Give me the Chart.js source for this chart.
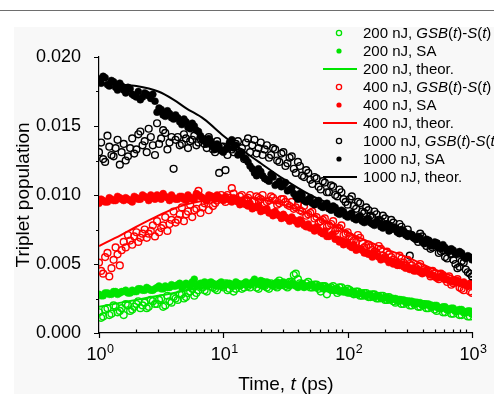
<!DOCTYPE html>
<html>
<head>
<meta charset="utf-8">
<script src="https://cdn.jsdelivr.net/npm/chart.js@4.4.1/dist/chart.umd.min.js"></script>
<style>
html, body { margin: 0; padding: 0; background: #fff; }
</style>
</head>
<body>
<canvas id="chartTriplet" width="494" height="394"></canvas>
<script>
// measurement times (ps), two interleaved grids
const times = [1, 1.08, 1.17, 1.26, 1.36, 1.47, 1.58, 1.71, 1.85, 2.0, 2.15, 2.33, 2.51, 2.71, 2.93, 3.16, 3.41, 3.69, 3.98, 4.3,
    4.64, 5.01, 5.41, 5.84, 6.31, 6.81, 7.36, 7.94, 8.58, 9.26, 10, 10.8, 11.7, 12.6, 13.6, 14.7, 15.8, 17.1, 18.5, 20,
    21.5, 23.3, 25.1, 27.1, 29.3, 31.6, 34.1, 36.9, 39.8, 43, 46.4, 50.1, 54.1, 58.4, 63.1, 68.1, 73.6, 79.4, 85.8, 92.6,
    100, 108, 117, 126, 136, 147, 158, 171, 185, 200, 215, 233, 251, 271, 293, 316, 341, 369, 398, 430,
    464, 501, 541, 584, 631, 681, 736, 794, 858, 926, 1000];
const times2 = [1.04, 1.12, 1.21, 1.31, 1.41, 1.52, 1.64, 1.78, 1.92, 2.07, 2.24, 2.42, 2.61, 2.82, 3.04, 3.28, 3.55, 3.83, 4.13, 4.46,
    4.82, 5.2, 5.62, 6.07, 6.55, 7.07, 7.64, 8.25, 8.91, 9.62, 10.4, 11.2, 12.1, 13.1, 14.1, 15.2, 16.4, 17.8, 19.2, 20.7,
    22.4, 24.2, 26.1, 28.2, 30.4, 32.8, 35.5, 38.3, 41.3, 44.6, 48.2, 52, 56.2, 60.7, 65.5, 70.7, 76.4, 82.5, 89.1, 96.2,
    104, 112, 121, 131, 141, 152, 164, 178, 192, 207, 224, 242, 261, 282, 304, 328, 355, 383, 413, 446,
    482, 520, 562, 607, 655, 707, 764, 825, 891, 962];

const gsb200 = [0.0015, 0.0012, 0.0018, 0.0014, 0.0019, 0.0016, 0.0013, 0.0020, 0.0017, 0.0021, 0.0018,
    0.0022, 0.0019, 0.0023, 0.0021, 0.0025, 0.0020, 0.0023, 0.0026,
    0.0024, 0.0028, 0.0026, 0.0030, 0.0027, 0.0031, 0.0033, 0.0030, 0.0034, 0.0032, 0.0035, 0.0033,
    0.0031, 0.0034, 0.0032, 0.0035, 0.0033, 0.0034, 0.0036, 0.0033, 0.0035, 0.0034,
    0.0032, 0.0035, 0.0033, 0.0036, 0.0034, 0.0037, 0.0042, 0.0039, 0.0035, 0.0036, 0.0033,
    0.0035, 0.0032, 0.0034, 0.0028, 0.0033, 0.0031, 0.0033, 0.0030, 0.0032, 0.0029,
    0.0030, 0.0027, 0.0029, 0.0026, 0.0028, 0.0025, 0.0027, 0.0024, 0.0026, 0.0023,
    0.0024, 0.0021, 0.0023, 0.0020, 0.0022, 0.0019, 0.0021, 0.0018, 0.0020, 0.0017,
    0.0018, 0.0015, 0.0017, 0.0014, 0.0016, 0.0013, 0.0015, 0.0012, 0.0014];
const gsb200b = [0.0011, 0.0017, 0.0013, 0.0020, 0.0015, 0.0018, 0.0021, 0.0016, 0.0019, 0.0023, 0.0020,
    0.0018, 0.0024, 0.0021, 0.0024, 0.0019, 0.0027, 0.0022, 0.0025,
    0.0028, 0.0025, 0.0029, 0.0032, 0.0029, 0.0034, 0.0031, 0.0036, 0.0033, 0.0031, 0.0034,
    0.0036, 0.0032, 0.0030, 0.0035, 0.0032, 0.0036, 0.0033, 0.0035, 0.0032, 0.0037,
    0.0033, 0.0036, 0.0034, 0.0038, 0.0035, 0.0033, 0.0037, 0.0043, 0.0036, 0.0034,
    0.0037, 0.0033, 0.0035, 0.0030, 0.0034, 0.0032, 0.0034, 0.0029, 0.0033, 0.0030,
    0.0031, 0.0028, 0.0030, 0.0027, 0.0029, 0.0026, 0.0028, 0.0025, 0.0027, 0.0024,
    0.0025, 0.0022, 0.0024, 0.0021, 0.0023, 0.0020, 0.0022, 0.0019, 0.0021, 0.0018,
    0.0019, 0.0016, 0.0018, 0.0015, 0.0017, 0.0014, 0.0016, 0.0013, 0.0015, 0.0012];
const sa200 = [0.0028, 0.0027, 0.0029, 0.0028, 0.0030, 0.0029, 0.0030, 0.0029, 0.0031, 0.0030, 0.0032,
    0.0031, 0.0032, 0.0031, 0.0033, 0.0032, 0.0034, 0.0033, 0.0034,
    0.0035, 0.0033, 0.0036, 0.0034, 0.0039, 0.0035, 0.0036, 0.0034, 0.0037, 0.0035, 0.0036, 0.0034,
    0.0036, 0.0035, 0.0037, 0.0034, 0.0036, 0.0035, 0.0037, 0.0036, 0.0038, 0.0035,
    0.0036, 0.0034, 0.0037, 0.0035, 0.0036, 0.0034, 0.0035, 0.0033, 0.0036, 0.0034, 0.0035,
    0.0033, 0.0034, 0.0032, 0.0033, 0.0031, 0.0032, 0.0030, 0.0031, 0.0029, 0.0030,
    0.0028, 0.0029, 0.0027, 0.0028, 0.0026, 0.0027, 0.0025, 0.0026, 0.0024, 0.0025,
    0.0023, 0.0024, 0.0022, 0.0023, 0.0021, 0.0022, 0.0020, 0.0021, 0.0019, 0.0020,
    0.0018, 0.0019, 0.0017, 0.0018, 0.0016, 0.0017, 0.0015, 0.0016, 0.0014];
const sa200b = [0.0027, 0.0029, 0.0028, 0.0030, 0.0028, 0.0030, 0.0031, 0.0029, 0.0030, 0.0032, 0.0031,
    0.0033, 0.0031, 0.0032, 0.0034, 0.0032, 0.0033, 0.0035, 0.0034,
    0.0036, 0.0034, 0.0035, 0.0037, 0.0034, 0.0036, 0.0037, 0.0035, 0.0036, 0.0034, 0.0037,
    0.0035, 0.0036, 0.0034, 0.0036, 0.0035, 0.0037, 0.0035, 0.0039, 0.0036, 0.0034,
    0.0037, 0.0035, 0.0036, 0.0034, 0.0037, 0.0035, 0.0036, 0.0034, 0.0035, 0.0033,
    0.0034, 0.0035, 0.0033, 0.0034, 0.0032, 0.0033, 0.0031, 0.0032, 0.0030, 0.0031,
    0.0029, 0.0030, 0.0028, 0.0029, 0.0027, 0.0028, 0.0026, 0.0027, 0.0025, 0.0026,
    0.0024, 0.0025, 0.0023, 0.0024, 0.0022, 0.0023, 0.0021, 0.0022, 0.0020, 0.0021,
    0.0019, 0.0020, 0.0018, 0.0019, 0.0017, 0.0018, 0.0016, 0.0017, 0.0015, 0.0016];
const gsb400 = [0.0051, 0.0043, 0.0058, 0.0047, 0.0062, 0.0049, 0.0066, 0.0071, 0.0064, 0.0073, 0.0069,
    0.0075, 0.0072, 0.0078, 0.0081, 0.0076, 0.0084, 0.0079, 0.0088,
    0.0082, 0.0091, 0.0086, 0.0093, 0.0089, 0.0103, 0.0091, 0.0096, 0.0099, 0.0094, 0.0098, 0.0097,
    0.0100, 0.0105, 0.0097, 0.0099, 0.0096, 0.0098, 0.0095, 0.0099, 0.0097, 0.0094,
    0.0096, 0.0098, 0.0093, 0.0097, 0.0095, 0.0092, 0.0090, 0.0093, 0.0088, 0.0085, 0.0087,
    0.0083, 0.0080, 0.0082, 0.0077, 0.0079, 0.0074, 0.0076, 0.0071, 0.0073, 0.0068,
    0.0066, 0.0069, 0.0062, 0.0064, 0.0060, 0.0058, 0.0061, 0.0055, 0.0057, 0.0053,
    0.0051, 0.0054, 0.0049, 0.0050, 0.0046, 0.0048, 0.0044, 0.0045, 0.0041, 0.0043,
    0.0039, 0.0042, 0.0037, 0.0035, 0.0038, 0.0033, 0.0031, 0.0034, 0.0029];
const gsb400b = [0.0045, 0.0055, 0.0041, 0.0053, 0.0057, 0.0060, 0.0062, 0.0067, 0.0070, 0.0066, 0.0072,
    0.0069, 0.0074, 0.0070, 0.0073, 0.0078, 0.0074, 0.0082, 0.0080,
    0.0086, 0.0081, 0.0088, 0.0084, 0.0090, 0.0087, 0.0094, 0.0089, 0.0092, 0.0096, 0.0100,
    0.0095, 0.0098, 0.0101, 0.0096, 0.0100, 0.0097, 0.0100, 0.0096, 0.0098, 0.0100,
    0.0095, 0.0099, 0.0096, 0.0094, 0.0097, 0.0093, 0.0095, 0.0091, 0.0089, 0.0092,
    0.0086, 0.0088, 0.0084, 0.0081, 0.0083, 0.0078, 0.0081, 0.0076, 0.0078, 0.0072,
    0.0070, 0.0067, 0.0071, 0.0065, 0.0063, 0.0062, 0.0059, 0.0063, 0.0056, 0.0059,
    0.0055, 0.0052, 0.0056, 0.0051, 0.0053, 0.0049, 0.0047, 0.0050, 0.0046, 0.0044,
    0.0045, 0.0040, 0.0043, 0.0039, 0.0041, 0.0036, 0.0039, 0.0032, 0.0035, 0.0030];
const sa400 = [0.0094, 0.0096, 0.0095, 0.0097, 0.0096, 0.0098, 0.0096, 0.0097, 0.0095, 0.0098, 0.0097,
    0.0099, 0.0096, 0.0098, 0.0100, 0.0097, 0.0099, 0.0096, 0.0098,
    0.0097, 0.0099, 0.0096, 0.0098, 0.0097, 0.0100, 0.0098, 0.0096, 0.0099, 0.0097, 0.0098, 0.0096,
    0.0097, 0.0095, 0.0096, 0.0093, 0.0094, 0.0092, 0.0090, 0.0091, 0.0088, 0.0089,
    0.0087, 0.0085, 0.0086, 0.0083, 0.0084, 0.0081, 0.0082, 0.0079, 0.0080, 0.0077, 0.0076,
    0.0074, 0.0075, 0.0072, 0.0070, 0.0071, 0.0068, 0.0066, 0.0064, 0.0065, 0.0062,
    0.0060, 0.0061, 0.0058, 0.0057, 0.0055, 0.0056, 0.0053, 0.0054, 0.0051, 0.0050,
    0.0049, 0.0050, 0.0047, 0.0046, 0.0045, 0.0046, 0.0043, 0.0044, 0.0042, 0.0041,
    0.0040, 0.0041, 0.0039, 0.0038, 0.0037, 0.0036, 0.0037, 0.0035, 0.0034];
const sa400b = [0.0097, 0.0095, 0.0098, 0.0096, 0.0099, 0.0097, 0.0098, 0.0096, 0.0099, 0.0097, 0.0100,
    0.0098, 0.0100, 0.0097, 0.0099, 0.0101, 0.0098, 0.0100, 0.0097,
    0.0099, 0.0097, 0.0100, 0.0098, 0.0101, 0.0099, 0.0097, 0.0100, 0.0098, 0.0100, 0.0097,
    0.0099, 0.0097, 0.0098, 0.0095, 0.0096, 0.0093, 0.0094, 0.0091, 0.0092, 0.0089,
    0.0090, 0.0087, 0.0088, 0.0085, 0.0086, 0.0083, 0.0084, 0.0081, 0.0082, 0.0078,
    0.0079, 0.0076, 0.0077, 0.0073, 0.0074, 0.0070, 0.0072, 0.0068, 0.0067, 0.0066,
    0.0063, 0.0064, 0.0061, 0.0060, 0.0058, 0.0057, 0.0058, 0.0055, 0.0054, 0.0053,
    0.0052, 0.0051, 0.0049, 0.0048, 0.0048, 0.0047, 0.0045, 0.0044, 0.0045, 0.0043,
    0.0042, 0.0040, 0.0041, 0.0039, 0.0038, 0.0037, 0.0038, 0.0036, 0.0035, 0.0036];
const gsb1000 = [0.0131, 0.0126, 0.0143, 0.0129, 0.0134, 0.0122, 0.0137, 0.0128, 0.0141, 0.0133, 0.0146,
    0.0139, 0.0148, 0.0136, 0.0152, 0.0141, 0.0145, 0.0138, 0.0119,
    0.0142, 0.0137, 0.0141, 0.0139, 0.0143, 0.0138, 0.0140, 0.0134, 0.0137, 0.0131, 0.0116, 0.0135,
    0.0129, 0.0133, 0.0137, 0.0131, 0.0126, 0.0141, 0.0136, 0.0130, 0.0138, 0.0133,
    0.0127, 0.0134, 0.0125, 0.0130, 0.0121, 0.0127, 0.0119, 0.0124, 0.0114, 0.0118, 0.0111,
    0.0113, 0.0106, 0.0110, 0.0102, 0.0107, 0.0100, 0.0104, 0.0097, 0.0093, 0.0099,
    0.0090, 0.0094, 0.0087, 0.0089, 0.0084, 0.0086, 0.0081, 0.0083, 0.0078, 0.0080,
    0.0074, 0.0077, 0.0072, 0.0056, 0.0069, 0.0066, 0.0070, 0.0063, 0.0061, 0.0064,
    0.0058, 0.0060, 0.0054, 0.0057, 0.0050, 0.0048, 0.0051, 0.0044, 0.0041];
const gsb1000b = [0.0138, 0.0124, 0.0135, 0.0128, 0.0140, 0.0131, 0.0125, 0.0134, 0.0130, 0.0144, 0.0136,
    0.0131, 0.0142, 0.0129, 0.0137, 0.0147, 0.0133, 0.0142, 0.0140,
    0.0136, 0.0144, 0.0134, 0.0140, 0.0136, 0.0141, 0.0137, 0.0142, 0.0133, 0.0139, 0.0135,
    0.0118, 0.0136, 0.0131, 0.0139, 0.0134, 0.0138, 0.0131, 0.0140, 0.0134, 0.0129,
    0.0136, 0.0129, 0.0133, 0.0124, 0.0131, 0.0123, 0.0128, 0.0116, 0.0121, 0.0113,
    0.0116, 0.0108, 0.0112, 0.0104, 0.0109, 0.0102, 0.0106, 0.0099, 0.0102, 0.0095,
    0.0097, 0.0092, 0.0095, 0.0088, 0.0091, 0.0085, 0.0088, 0.0082, 0.0085, 0.0079,
    0.0082, 0.0076, 0.0079, 0.0073, 0.0075, 0.0071, 0.0068, 0.0072, 0.0065, 0.0067,
    0.0062, 0.0065, 0.0059, 0.0055, 0.0060, 0.0053, 0.0047, 0.0052, 0.0046, 0.0043];
const sa1000 = [0.0184, 0.0186, 0.0180, 0.0183, 0.0178, 0.0181, 0.0176, 0.0178, 0.0173, 0.0171, 0.0169,
    0.0174, 0.0172, 0.0173, 0.0160, 0.0162, 0.0157, 0.0159, 0.0155,
    0.0156, 0.0151, 0.0153, 0.0148, 0.0150, 0.0146, 0.0141, 0.0137, 0.0139, 0.0133, 0.0135, 0.0131,
    0.0134, 0.0140, 0.0136, 0.0130, 0.0127, 0.0124, 0.0119, 0.0114, 0.0117, 0.0112,
    0.0110, 0.0113, 0.0108, 0.0106, 0.0109, 0.0104, 0.0101, 0.0097, 0.0100, 0.0095, 0.0098,
    0.0093, 0.0096, 0.0091, 0.0094, 0.0089, 0.0091, 0.0086, 0.0088, 0.0084, 0.0087,
    0.0082, 0.0085, 0.0080, 0.0083, 0.0079, 0.0081, 0.0077, 0.0079, 0.0074, 0.0077,
    0.0073, 0.0075, 0.0071, 0.0072, 0.0069, 0.0070, 0.0066, 0.0068, 0.0064, 0.0066,
    0.0062, 0.0064, 0.0060, 0.0061, 0.0057, 0.0059, 0.0055, 0.0056, 0.0053];
const sa1000b = [0.0181, 0.0185, 0.0179, 0.0182, 0.0176, 0.0179, 0.0174, 0.0177, 0.0172, 0.0175, 0.0171,
    0.0173, 0.0170, 0.0168, 0.0163, 0.0158, 0.0161, 0.0156, 0.0158,
    0.0153, 0.0155, 0.0149, 0.0152, 0.0147, 0.0143, 0.0139, 0.0141, 0.0135, 0.0137, 0.0132,
    0.0133, 0.0138, 0.0134, 0.0129, 0.0131, 0.0126, 0.0121, 0.0116, 0.0119, 0.0114,
    0.0111, 0.0115, 0.0107, 0.0110, 0.0107, 0.0103, 0.0105, 0.0099, 0.0101, 0.0096,
    0.0097, 0.0094, 0.0095, 0.0092, 0.0093, 0.0090, 0.0092, 0.0087, 0.0089, 0.0085,
    0.0086, 0.0083, 0.0084, 0.0081, 0.0082, 0.0080, 0.0078, 0.0080, 0.0076, 0.0078,
    0.0075, 0.0076, 0.0072, 0.0074, 0.0070, 0.0071, 0.0068, 0.0069, 0.0065, 0.0067,
    0.0063, 0.0065, 0.0061, 0.0062, 0.0059, 0.0060, 0.0057, 0.0058, 0.0054, 0.0055];

// model curves
const theorTimes = [1, 1.5, 2, 3, 4, 5, 7, 10, 15, 20, 30, 50, 70, 100, 150, 200, 300, 500, 700, 1000];
const theor200 = [0.0019, 0.0022, 0.0024, 0.0027, 0.0029, 0.0031, 0.0033, 0.0034, 0.0035, 0.0036,
    0.0036, 0.0035, 0.0034, 0.0031, 0.0028, 0.0026, 0.0023, 0.0019, 0.0017, 0.0015];
const theor400 = [0.0063, 0.0071, 0.0077, 0.0085, 0.0090, 0.0093, 0.0096, 0.0098, 0.0098, 0.0097,
    0.0093, 0.0086, 0.0080, 0.0073, 0.0066, 0.0061, 0.0055, 0.0046, 0.0041, 0.0035];
const theor1000 = [0.0181, 0.0180, 0.0179, 0.0175, 0.0169, 0.0163, 0.0155, 0.0143, 0.0131, 0.0123,
    0.0112, 0.0100, 0.0094, 0.0087, 0.0081, 0.0077, 0.0071, 0.0063, 0.0058, 0.0052];

const xDecades = [1, 10, 100, 1000];
const xDecadeExp = ['0', '1', '2', '3'];

const GREEN = '#00e400', RED = '#ff0000', BLACK = '#000000';
const FONT = '"Liberation Sans", Arial, sans-serif';

function pts(xs, ys) { return xs.map((x, i) => ({ x: x, y: ys[i] })); }
function openSet(label, a, b, color) {
    return { type: 'scatter', label, data: pts(times, a).concat(pts(times2, b)), showLine: false, pointStyle: 'circle',
        pointRadius: 3.4, borderColor: color, backgroundColor: 'rgba(0,0,0,0)', pointBorderWidth: 1.4 };
}
function fillSet(label, a, b, color) {
    return { type: 'scatter', label, data: pts(times, a).concat(pts(times2, b)), showLine: false, pointStyle: 'circle',
        pointRadius: 3.5, borderColor: color, backgroundColor: color, pointBorderWidth: 0.5 };
}
function lineSet(label, data, color) {
    return { type: 'line', label, data: pts(theorTimes, data), borderColor: color, borderWidth: 2,
        pointRadius: 0, fill: false, cubicInterpolationMode: 'monotone' };
}

// legend entries: text pieces [text, italic]
const gsbText = [['GSB', 1], ['(', 0], ['t', 1], [')-', 0], ['S', 1], ['(', 0], ['t', 1], [')', 0]];
const legendItems = [
    { kind: 'open', color: GREEN, text: [['200 nJ, ', 0]].concat(gsbText) },
    { kind: 'fill', color: GREEN, text: [['200 nJ, SA', 0]] },
    { kind: 'line', color: GREEN, text: [['200 nJ, theor.', 0]] },
    { kind: 'open', color: RED, text: [['400 nJ, ', 0]].concat(gsbText) },
    { kind: 'fill', color: RED, text: [['400 nJ, SA', 0]] },
    { kind: 'line', color: RED, text: [['400 nJ, theor.', 0]] },
    { kind: 'open', color: BLACK, text: [['1000 nJ, ', 0]].concat(gsbText) },
    { kind: 'fill', color: BLACK, text: [['1000 nJ, SA', 0]] },
    { kind: 'line', color: BLACK, text: [['1000 nJ, theor.', 0]] }
];

function drawRich(c, pieces, x, y, size) {
    pieces.forEach(p => {
        c.font = (p[1] ? 'italic ' : '') + size + 'px ' + FONT;
        c.fillText(p[0], x, y);
        x += c.measureText(p[0]).width;
    });
}
function richWidth(c, pieces, size) {
    let w = 0;
    pieces.forEach(p => { c.font = (p[1] ? 'italic ' : '') + size + 'px ' + FONT; w += c.measureText(p[0]).width; });
    return w;
}

const decor = {
    id: 'decor',
    beforeDraw(chart) {
        const c = chart.ctx;
        c.save();
        c.fillStyle = '#ffffff';
        c.fillRect(0, 0, chart.width, chart.height);
        c.fillStyle = '#f8f8f8';
        c.fillRect(14, 27, chart.width - 14, chart.height - 27);
        c.strokeStyle = '#6e6e6e';
        c.lineWidth = 1;
        c.beginPath(); c.moveTo(0, 10.5); c.lineTo(chart.width, 10.5); c.stroke();
        c.restore();
    },
    afterDraw(chart) {
        const c = chart.ctx, xs = chart.scales.x, ys = chart.scales.y, a = chart.chartArea;
        c.save();
        c.strokeStyle = '#000';
        c.lineWidth = 1.2;
        c.beginPath();
        // y ticks, major and minor
        for (let v = 0; v <= 0.0201; v += 0.0025) {
            const py = Math.round(ys.getPixelForValue(v)) + 0.5;
            const major = Math.abs(v / 0.005 - Math.round(v / 0.005)) < 1e-6;
            c.moveTo(a.left, py); c.lineTo(a.left - (major ? 5 : 3), py);
        }
        // x ticks
        xDecades.forEach(d => {
            const px = Math.round(xs.getPixelForValue(d)) + 0.5;
            c.moveTo(px, a.bottom - 1); c.lineTo(px, a.bottom + 5);
            if (d < 1000) {
                for (let m = 2; m <= 9; m++) {
                    const qx = Math.round(xs.getPixelForValue(d * m)) + 0.5;
                    c.moveTo(qx, a.bottom); c.lineTo(qx, a.bottom - 3.5);
                }
            }
        });
        c.stroke();

        // x tick labels 10^n
        c.fillStyle = '#000';
        c.textBaseline = 'alphabetic';
        xDecades.forEach((d, i) => {
            const px = xs.getPixelForValue(d);
            c.font = '18px ' + FONT;
            const w1 = c.measureText('10').width;
            c.font = '12.5px ' + FONT;
            const w2 = c.measureText(xDecadeExp[i]).width;
            const x0 = px - (w1 + w2) / 2 + 1;
            c.font = '18px ' + FONT;
            c.fillText('10', x0, a.bottom + 27);
            c.font = '12.5px ' + FONT;
            c.fillText(xDecadeExp[i], x0 + w1 + 0.5, a.bottom + 20);
        });

        // axis titles
        const xt = [['Time, ', 0], ['t', 1], [' (ps)', 0]];
        const xw = richWidth(c, xt, 19);
        drawRich(c, xt, 286 - xw / 2, 390, 19);
        c.save();
        c.translate(29, 195);
        c.rotate(-Math.PI / 2);
        c.font = '19px ' + FONT;
        c.textAlign = 'center';
        c.fillText('Triplet population', 0, 0);
        c.restore();

        // legend
        legendItems.forEach((it, i) => {
            const cy = 33 + i * 18;
            c.strokeStyle = it.color; c.fillStyle = it.color;
            if (it.kind === 'line') {
                c.lineWidth = 2;
                c.beginPath(); c.moveTo(323, cy); c.lineTo(357, cy); c.stroke();
            } else {
                c.beginPath(); c.arc(339, cy, 2.6, 0, Math.PI * 2);
                if (it.kind === 'fill') c.fill();
                else { c.lineWidth = 1.3; c.stroke(); }
            }
            c.fillStyle = '#000';
            drawRich(c, it.text, 363, cy + 5, 15);
        });
        c.restore();
    }
};

const ctxTriplet = document.getElementById('chartTriplet').getContext('2d');
new Chart(ctxTriplet, {
    data: {
        datasets: [
            lineSet('1000 nJ, theor.', theor1000, BLACK),
            lineSet('400 nJ, theor.', theor400, RED),
            lineSet('200 nJ, theor.', theor200, GREEN),
            fillSet('1000 nJ, SA', sa1000, sa1000b, BLACK),
            openSet('1000 nJ, GSB(t)-S(t)', gsb1000, gsb1000b, BLACK),
            fillSet('400 nJ, SA', sa400, sa400b, RED),
            openSet('400 nJ, GSB(t)-S(t)', gsb400, gsb400b, RED),
            fillSet('200 nJ, SA', sa200, sa200b, GREEN),
            openSet('200 nJ, GSB(t)-S(t)', gsb200, gsb200b, GREEN)
        ]
    },
    options: {
        responsive: false,
        animation: false,
        layout: { padding: { top: 57, right: 22, bottom: 0, left: 0 } },
        plugins: { legend: { display: false }, tooltip: { enabled: false } },
        scales: {
            x: {
                type: 'logarithmic', min: 1, max: 1000,
                grid: { display: false },
                border: { display: true, color: '#000', width: 1.2 },
                ticks: { display: false },
                afterFit: s => { s.height = 61; }
            },
            y: {
                type: 'linear', min: 0, max: 0.02,
                grid: { display: false },
                border: { display: true, color: '#000', width: 1.2 },
                ticks: {
                    stepSize: 0.005, padding: 10, color: '#000',
                    font: { family: FONT, size: 18 },
                    callback: v => v.toFixed(3)
                },
                afterFit: s => { s.width = 99; }
            }
        }
    },
    plugins: [decor]
});
</script>
</body>
</html>
